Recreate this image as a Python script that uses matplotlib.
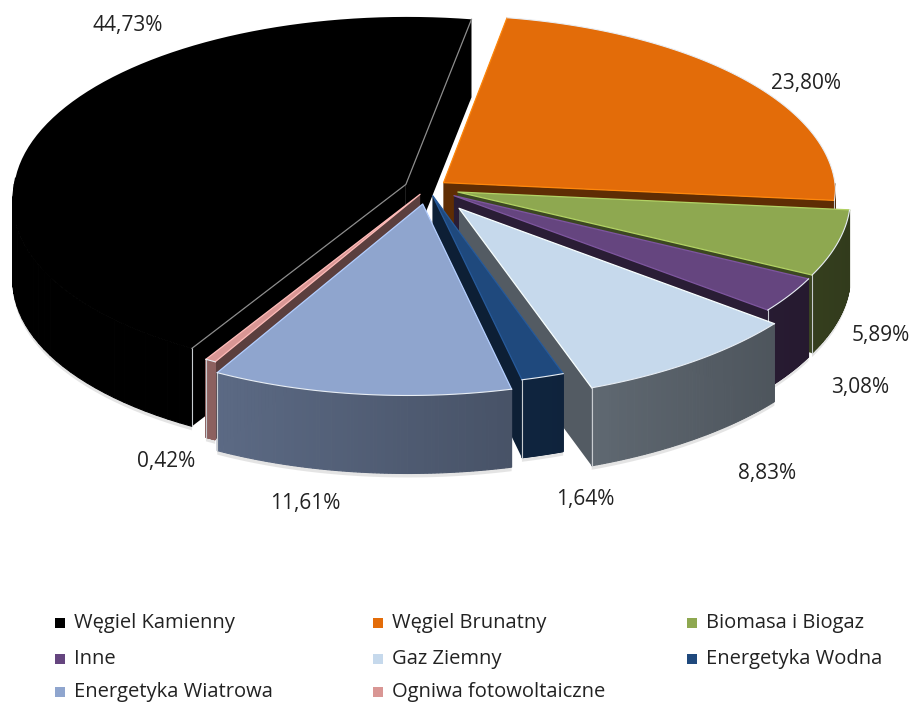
import numpy as np
import matplotlib
matplotlib.use('Agg')
import matplotlib.pyplot as plt
from matplotlib.patches import Polygon

plt.rcParams['font.family'] = ['Open Sans', 'DejaVu Sans']

# Share of each source in percent
categories = ['Węgiel Kamienny', 'Węgiel Brunatny', 'Biomasa i Biogaz', 'Inne',
              'Gaz Ziemny', 'Energetyka Wodna', 'Energetyka Wiatrowa', 'Ogniwa fotowoltaiczne']
values = [44.73, 23.80, 5.89, 3.08, 8.83, 1.64, 11.61, 0.42]
colors = ['#000000', '#E36C09', '#8EA850', '#65457F', '#C6D9EC', '#1F497D', '#8FA5CE', '#D99694']
explode = [0.06, 0.05, 0.08, 0.08, 0.14, 0.045, 0.09, 0.04]

# Pixel layout of the fake 3D pie
cx, cy = 428, 188
rx, ry = 392, 178
persp = 0.06
skew = 0.035
depth = 78
start_angle = 241

label_pos = [(128, 25), (806, 83), (881, 335), (860, 387), (767, 473), (585, 499), (305, 504), (166, 461)]
legend_x = [60, 378, 692]
legend_y = [623, 659, 692]


def project(r, theta, off):
    # flat pie coordinates to picture pixels, front half leans a bit to the left
    px = r * np.cos(theta) + off[0]
    py = r * np.sin(theta) + off[1]
    w = 1 + persp * py
    return cx + rx * (px + skew * np.minimum(py, 0)) / w, cy - ry * py / w


def shade(color, f):
    rgb = np.array(matplotlib.colors.to_rgb(color))
    return tuple(np.clip(rgb * f, 0, 1))


fig = plt.figure(figsize=(9.1, 7.02), dpi=100)
ax = fig.add_axes([0, 0, 1, 1])
ax.set_xlim(0, 910)
ax.set_ylim(702, 0)
ax.axis('off')

# angles run clockwise from the start angle
ends = start_angle - np.cumsum(values) * 3.6
starts = ends + np.array(values) * 3.6

for order, i in enumerate([0, 1, 2, 3, 4, 7, 5, 6]):
    z = 10 + order * 10
    t0, t1 = np.radians(starts[i]), np.radians(ends[i])
    mid = (t0 + t1) / 2
    off = (explode[i] * np.cos(mid), explode[i] * np.sin(mid))
    col = colors[i]
    theta = np.linspace(t0, t1, 80)
    xs, ys = project(1.0, theta, off)
    ax0, ay0 = project(0.0, 0.0, off)
    side = 0.42 if i != 6 else 0.55

    # faint shadow under the outer wall
    if i != 1:
        ax.add_patch(Polygon(np.column_stack([xs, ys + depth + 4]).tolist() + [(xs[-1], ys[-1]), (xs[0], ys[0])],
                             closed=True, fc='#a8a8a8', ec='none', alpha=0.3, zorder=1))

    # radial walls
    for xe, ye in [(xs[0], ys[0]), (xs[-1], ys[-1])]:
        ax.fill([ax0, xe, xe, ax0], [ay0, ye, ye + depth, ay0 + depth],
                color=shade(col, side), lw=0, zorder=z)

    # outer wall as narrow strips so it gets a gradient
    for j in range(len(theta) - 1):
        if np.sin(theta[j]) + off[1] > 0.03:
            continue
        f = 0.55 - 0.2 * np.cos(theta[j])
        ax.fill([xs[j], xs[j + 1], xs[j + 1], xs[j]],
                [ys[j], ys[j + 1], ys[j + 1] + depth, ys[j] + depth],
                color=shade(col, f), lw=0.8, zorder=z + 1)

    # top face, the black slice has its visible corner at the first angle
    corner = 0 if i == 0 else -1
    ax.plot([xs[corner], xs[corner]], [ys[corner], ys[corner] + depth], color='#c8ccd0', lw=0.8, zorder=z + 2)
    top = [(ax0, ay0)] + list(zip(xs, ys))
    ax.add_patch(Polygon(top, closed=True, fc=col, ec='none', zorder=z + 3))
    edge = '#8a8a8a' if i == 0 else shade(col, 1.25)
    ax.plot([xs[0], ax0, xs[-1]], [ys[0], ay0, ys[-1]], color=edge, lw=0.9, zorder=z + 4)
    if i != 0:
        ax.plot(xs, ys, color='#e8eef5', lw=0.8, zorder=z + 4)

    lx, ly = label_pos[i]
    ax.text(lx, ly, f'{values[i]:.2f}%'.replace('.', ','), ha='center', va='center',
            fontsize=15, color='#222222', zorder=200)

# legend is filled row by row
for i, name in enumerate(categories):
    x = legend_x[i % 3]
    y = legend_y[i // 3]
    ax.scatter([x], [y], marker='s', s=62, color=colors[i], lw=0, zorder=200)
    ax.text(x + 14, y, name, ha='left', va='center', fontsize=14.5, color='#222222', zorder=200)

fig.savefig('out.png', dpi=100)
